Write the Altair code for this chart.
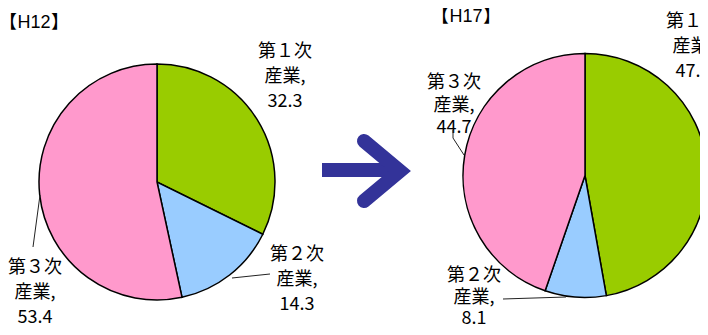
import altair as alt
import pandas as pd

# ---- data ----
categories = ["第1次産業", "第2次産業", "第3次産業"]
label_heads = ["第１次", "第２次", "第３次"]
h12_values = [32.3, 14.3, 53.4]
h17_values = [47.2, 8.1, 44.7]
titles = ["H12", "H17"]
colors = ["#99CC00", "#99CCFF", "#FF99CC"]

# ---- layout (page pixel coordinates) ----
W, H = 692, 319
FONT = "Noto Sans CJK JP"
pies = [
    {"cx": 157, "cy": 182, "r": 118, "values": h12_values},
    {"cx": 585, "cy": 175.5, "r": 122, "values": h17_values},
]
title_pos = [(34, 23), (466, 17)]
# label centre x, y of each line, for each pie, in category order
label_pos = [
    [(285, [52, 77, 102]), (297, [255, 280, 305]), (35, [268, 293, 318])],
    [(693, [22, 47, 72]), (474, [276, 298, 319]), (454, [83, 106, 128])],
]
leaders = [
    [(232, 278), (270, 274)],
    [(40, 195), (33, 247)],
    [(453, 130), (453, 138), (464, 155)],
    [(503, 299), (566, 297)],
]

xs = alt.Scale(domain=[8, 8 + W], range=[0, W], nice=False, zero=False)
ys = alt.Scale(domain=[8, 8 + H], range=[0, H], nice=False, zero=False)

layers = []
for p in pies:
    df = pd.DataFrame({"cat": categories, "v": p["values"], "i": [0, 1, 2],
                       "cx": [p["cx"]] * 3, "cy": [p["cy"]] * 3})
    arc = alt.Chart(df).mark_arc(
        radius=p["r"], stroke="black", strokeWidth=1.5
    ).encode(
        x=alt.X("cx:Q", scale=xs, axis=None),
        y=alt.Y("cy:Q", scale=ys, axis=None),
        theta=alt.Theta("v:Q", stack=True, scale=alt.Scale(domain=[0, 100])),
        color=alt.Color("cat:N", scale=alt.Scale(domain=categories, range=colors), legend=None),
        order=alt.Order("i:Q"),
    )
    layers.append(arc)

# text labels
rows = []
for pi, p in enumerate(pies):
    for ci in range(3):
        cx, ys_ = label_pos[pi][ci]
        lines = [label_heads[ci], "産業,", f"{p['values'][ci]:.1f}"]
        for t, yy in zip(lines, ys_):
            rows.append({"px": cx, "py": yy, "t": t})
text_df = pd.DataFrame(rows)
layers.append(
    alt.Chart(text_df).mark_text(font=FONT, fontSize=18, color="black",
                                 align="center", baseline="middle").encode(
        x=alt.X("px:Q", scale=xs, axis=None),
        y=alt.Y("py:Q", scale=ys, axis=None),
        text="t:N",
    )
)

# titles: 【 H12 】 built from three pieces so the brackets sit tight
title_df = pd.DataFrame({"px": [p[0] for p in title_pos], "py": [p[1] for p in title_pos], "t": titles})
layers.append(
    alt.Chart(title_df).mark_text(font="Liberation Sans", fontSize=18, color="black",
                                  align="center", baseline="middle").encode(
        x=alt.X("px:Q", scale=xs, axis=None),
        y=alt.Y("py:Q", scale=ys, axis=None),
        text="t:N",
    )
)
lb = pd.DataFrame({"px": [p[0] - 17 for p in title_pos], "py": [p[1] for p in title_pos], "t": ["【"] * 2})
rb = pd.DataFrame({"px": [p[0] + 17 for p in title_pos], "py": [p[1] for p in title_pos], "t": ["】"] * 2})
for bdf, al in ((lb, "right"), (rb, "left")):
    layers.append(
        alt.Chart(bdf).mark_text(font=FONT, fontSize=18, color="black",
                                 align=al, baseline="middle").encode(
            x=alt.X("px:Q", scale=xs, axis=None),
            y=alt.Y("py:Q", scale=ys, axis=None),
            text="t:N",
        )
    )

# leader lines
lrows = []
for li, pts in enumerate(leaders):
    for k, (a, b) in enumerate(pts):
        lrows.append({"id": li, "k": k, "px": a, "py": b})
layers.append(
    alt.Chart(pd.DataFrame(lrows)).mark_line(color="#222222", strokeWidth=1).encode(
        x=alt.X("px:Q", scale=xs, axis=None),
        y=alt.Y("py:Q", scale=ys, axis=None),
        detail="id:N",
        order="k:Q",
    )
)

# arrow
shaft = pd.DataFrame({"px": [322], "px2": [398], "py": [170], "py2": [170]})
layers.append(
    alt.Chart(shaft).mark_rule(color="#333399", strokeWidth=14, strokeCap="butt").encode(
        x=alt.X("px:Q", scale=xs, axis=None), x2="px2:Q",
        y=alt.Y("py:Q", scale=ys, axis=None), y2="py2:Q",
    )
)
head = pd.DataFrame({"px": [364, 400, 364], "py": [141, 171, 201], "k": [0, 1, 2]})
layers.append(
    alt.Chart(head).mark_line(color="#333399", strokeWidth=14, strokeCap="round",
                              strokeJoin="miter", strokeMiterLimit=10).encode(
        x=alt.X("px:Q", scale=xs, axis=None),
        y=alt.Y("py:Q", scale=ys, axis=None),
        order="k:Q",
    )
)

chart = alt.layer(*layers).properties(
    width=W, height=H, padding=0,
    autosize=alt.AutoSizeParams(type="none"),
).resolve_scale(theta="independent").configure_view(stroke=None)

chart.save("out.html", embed_options={"renderer": "svg", "actions": False})
